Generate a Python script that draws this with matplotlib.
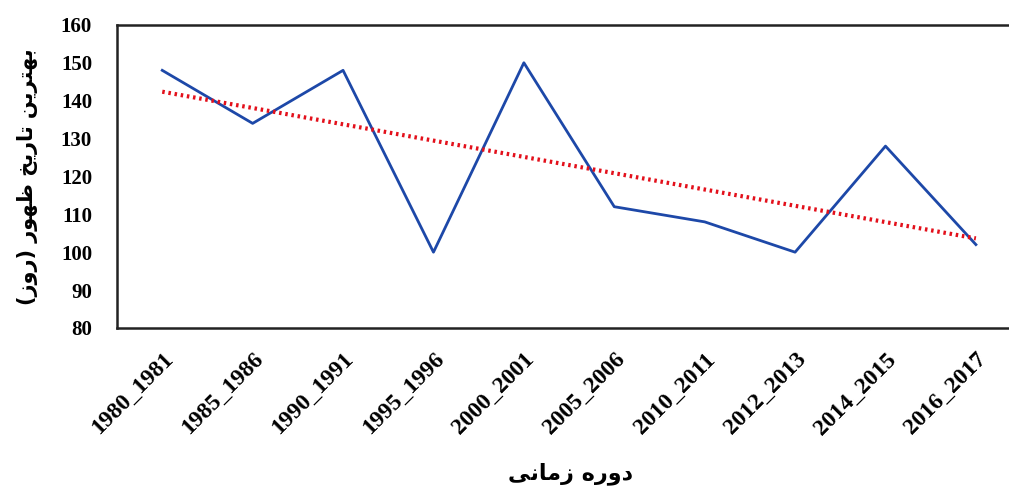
# plot.py
# Emergence date per period, with a linear trend line.

import numpy as np
import matplotlib.pyplot as plt

periods = ["1980_1981", "1985_1986", "1990_1991", "1995_1996", "2000_2001",
           "2005_2006", "2010_2011", "2012_2013", "2014_2015", "2016_2017"]
days = [148, 134, 148, 100, 150, 112, 108, 100, 128, 102]
y_ticks = [80, 90, 100, 110, 120, 130, 140, 150, 160]

y_title = "بهترین تاریخ ظهور (روز)"
x_title = "دوره زمانی"

# matplotlib does no Arabic shaping, so pick presentation forms by hand
# letter: (isolated, final, initial, medial); two forms = joins right only
FORMS = {
    "ا": ("\uFE8D", "\uFE8E"),
    "ب": ("\uFE8F", "\uFE90", "\uFE91", "\uFE92"),
    "ت": ("\uFE95", "\uFE96", "\uFE97", "\uFE98"),
    "خ": ("\uFEA5", "\uFEA6", "\uFEA7", "\uFEA8"),
    "د": ("\uFEA9", "\uFEAA"),
    "ر": ("\uFEAD", "\uFEAE"),
    "ز": ("\uFEAF", "\uFEB0"),
    "ظ": ("\uFEC5", "\uFEC6", "\uFEC7", "\uFEC8"),
    "م": ("\uFEE1", "\uFEE2", "\uFEE3", "\uFEE4"),
    "ن": ("\uFEE5", "\uFEE6", "\uFEE7", "\uFEE8"),
    "ه": ("\uFEE9", "\uFEEA", "\uFEEB", "\uFEEC"),
    "و": ("\uFEED", "\uFEEE"),
    "ی": ("\uFBFC", "\uFBFD", "\uFBFE", "\uFBFF"),
}
MIRROR = {"(": ")", ")": "("}


def shape(text):
    out = []
    for i, ch in enumerate(text):
        if ch not in FORMS:
            out.append(MIRROR.get(ch, ch))
            continue
        prev = text[i - 1] if i > 0 else ""
        nxt = text[i + 1] if i + 1 < len(text) else ""
        join_prev = prev in FORMS and len(FORMS[prev]) == 4
        join_next = len(FORMS[ch]) == 4 and nxt in FORMS
        f = FORMS[ch]
        if join_prev and join_next:
            out.append(f[3])
        elif join_prev:
            out.append(f[1])
        elif join_next:
            out.append(f[2])
        else:
            out.append(f[0])
    return "".join(reversed(out))


plt.rcParams["font.family"] = ["Liberation Serif", "DejaVu Sans"]
plt.rcParams["font.weight"] = "bold"

fig = plt.figure(figsize=(10.09, 4.88), dpi=100)
ax = fig.add_axes([0.116, 0.328, 0.896, 0.621])

x = np.arange(len(periods))
ax.plot(x, days, color="#1d48a8", lw=2.0)

slope, icpt = np.polyfit(x, days, 1)
ax.plot(x, slope * x + icpt, color="#e3101b", lw=3, linestyle=(0, (0.6, 0.9)))

ax.set_xlim(-0.5, len(periods) - 0.5)
ax.set_ylim(80, 160)
ax.set_yticks(y_ticks)
ax.set_xticks(x)
ax.set_xticklabels(periods, rotation=45, ha="right", rotation_mode="anchor",
                   fontsize=17, fontweight="bold")
ax.tick_params(axis="y", labelsize=15, length=0, pad=18)
ax.tick_params(axis="x", length=0, pad=15)
for s in ax.spines.values():
    s.set_linewidth(1.8)
    s.set_color("#222222")

ax.set_ylabel(shape(y_title), family=["DejaVu Sans"], fontsize=15,
              fontweight="bold")
ax.yaxis.set_label_coords(-0.087, 0.5)
fig.text(0.565, 0.006, shape(x_title), family=["DejaVu Sans"], fontsize=16,
         fontweight="bold", ha="center", va="bottom")

plt.savefig("out.png", dpi=100)
